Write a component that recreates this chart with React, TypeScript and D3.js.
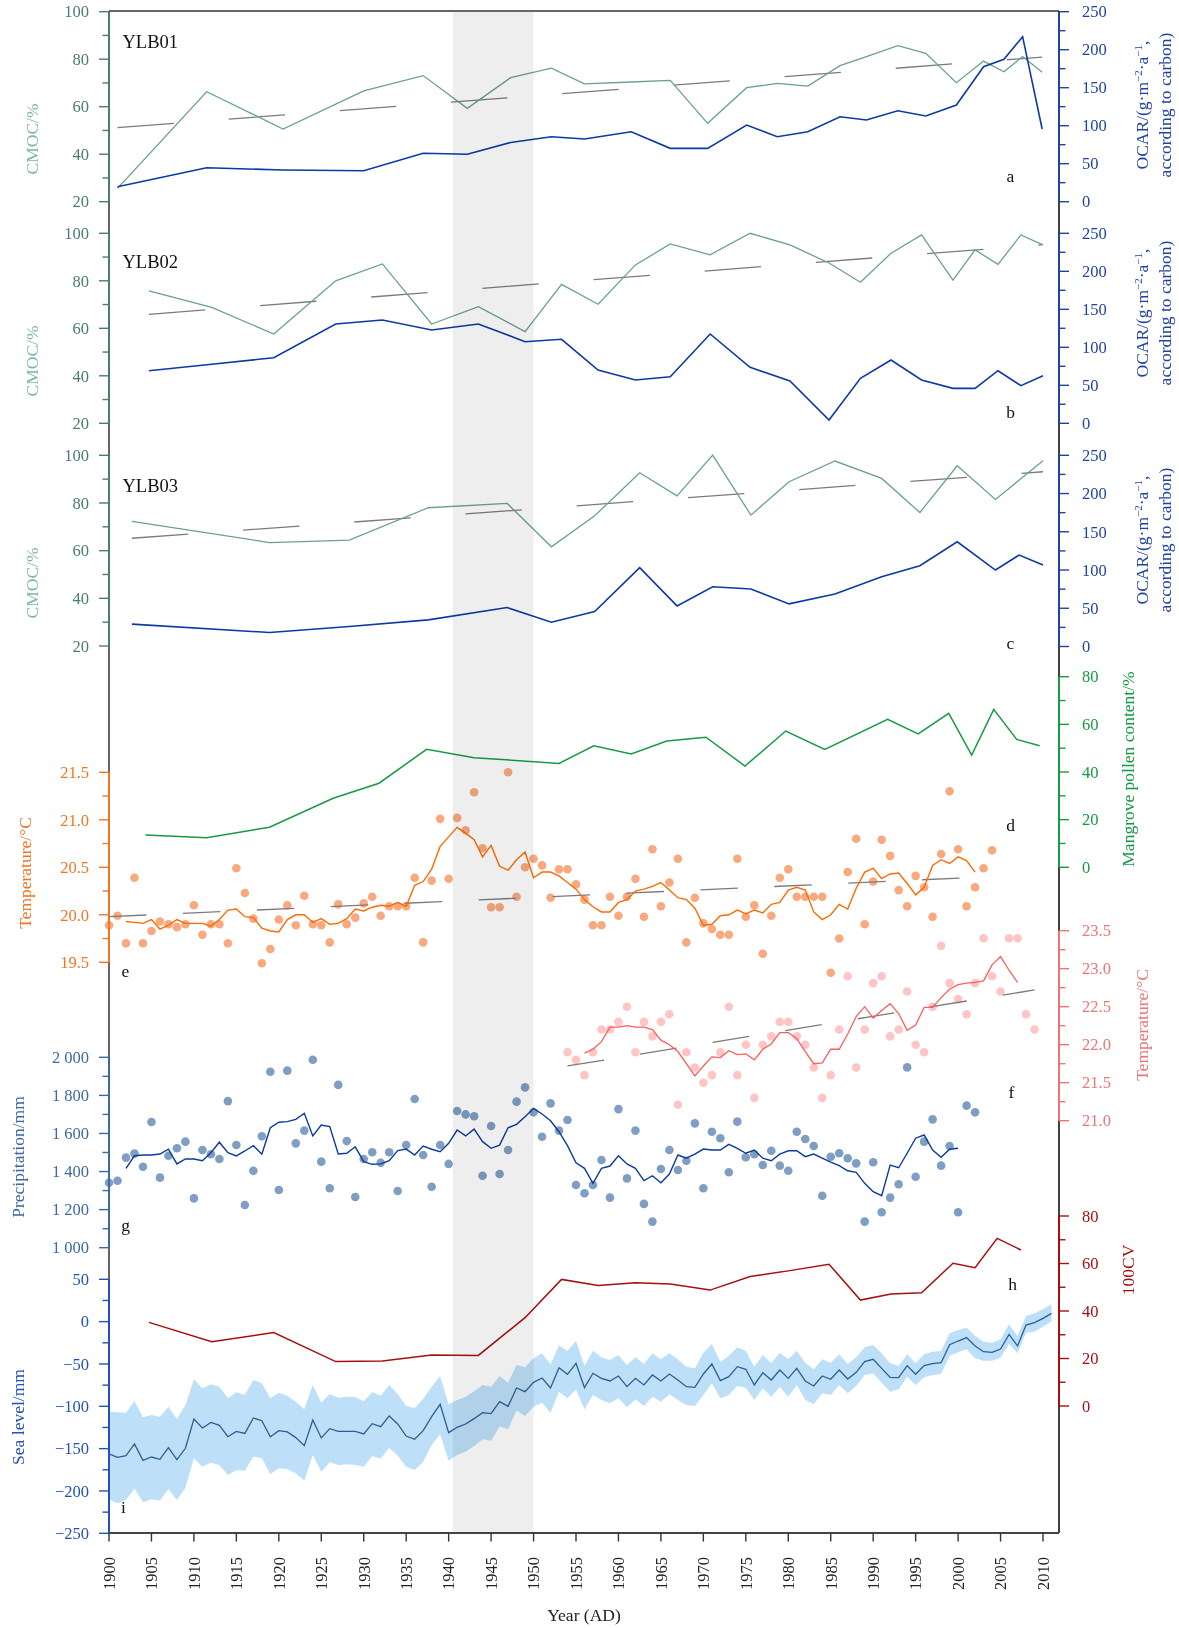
import React from "react";
import * as d3 from "d3";

const W = 1179;
const H = 1628;
const FONT = "'Liberation Serif', 'Times New Roman', Times, serif";

// Frame geometry
const AXIS_L = 109;
const AXIS_R = 1059;
const FRAME_TOP = 11;
const FRAME_BOTTOM = 1533;

// ---------------- YLB01 ----------------
const ylb01Years = [1901, 1911.5, 1920.5, 1930, 1937, 1942.2, 1947.3, 1952.1, 1956, 1961.5, 1966.1, 1970.5, 1975.1, 1978.7, 1982.3, 1986.1, 1989.2, 1992.9, 1996.2, 1999.8, 2003, 2005.4, 2007.6, 2009.9];
const ylb01Cmoc = [25.6, 66.3, 50.6, 66.7, 73.1, 59.3, 72.2, 76.2, 69.6, 70.4, 71.1, 53.0, 68.0, 69.8, 68.7, 77.3, 81.1, 85.7, 82.5, 70.1, 79.2, 74.7, 81.1, 74.5];
const ylb01Ocar = [19.7, 44.7, 41.7, 40.8, 63.7, 62.4, 78.0, 85.5, 82.5, 92.1, 70.2, 70.2, 100.9, 85.5, 92.1, 111.8, 107.5, 119.7, 112.8, 127.2, 177.6, 187.4, 217.1, 95.7];
const ylb01Trend = [[1901, 51.2], [2009.9, 80.9]];

// ---------------- YLB02 ----------------
const ylb02Years = [1904.7, 1912.1, 1919.4, 1926.7, 1932.2, 1938, 1943.5, 1949, 1953.3, 1957.6, 1962, 1966.1, 1970.8, 1975.5, 1980.2, 1984.8, 1988.5, 1992.1, 1995.7, 1999.4, 2002, 2004.7, 2007.4, 2010];
const ylb02Cmoc = [75.8, 68.8, 57.6, 80.0, 87.1, 61.8, 69.1, 58.6, 78.5, 70.1, 86.7, 95.5, 90.9, 100.0, 95.1, 87.5, 79.4, 91.6, 99.3, 80.3, 93.0, 86.9, 99.3, 95.1];
const ylb02Ocar = [69.2, 77.6, 86.3, 130.7, 135.9, 122.8, 130.7, 107.4, 110.5, 70.1, 57.0, 61.3, 117.5, 73.7, 55.7, 4.3, 59.2, 83.3, 57.0, 46.0, 46.0, 69.2, 49.5, 62.6];
const ylb02Trend = [[1904.7, 65.9], [2010, 95.2]];

// ---------------- YLB03 ----------------
const ylb03Years = [1902.7, 1918.9, 1928.3, 1937.6, 1946.9, 1952.1, 1957.2, 1962.5, 1966.9, 1971.1, 1975.6, 1980.1, 1985.5, 1991, 1995.5, 1999.9, 2004.4, 2007.2, 2010];
const ylb03Cmoc = [72.3, 63.4, 64.4, 78.0, 79.8, 61.6, 74.6, 92.7, 83.0, 100.1, 74.9, 88.9, 97.6, 90.3, 76.0, 95.6, 81.5, 89.6, 97.7];
const ylb03Ocar = [29.2, 18.3, 26.1, 34.8, 50.9, 31.8, 45.6, 103.0, 53.1, 78.2, 75.2, 55.7, 68.7, 91.3, 105.6, 136.9, 100.0, 119.6, 106.5];
const ylb03Trend = [[1902.7, 65.2], [2010, 93.1]];

// ---------------- Mangrove pollen (d) ----------------
const pollenYears = [1904.3, 1911.5, 1918.9, 1926.4, 1931.8, 1937.4, 1943, 1953, 1957.1, 1961.5, 1965.7, 1970.3, 1974.9, 1979.7, 1984.3, 1991.7, 1995.3, 1998.9, 2001.6, 2004.2, 2006.9, 2009.6];
const pollenPct = [13.6, 12.4, 16.8, 29.0, 35.3, 49.5, 46.0, 43.6, 51.0, 47.6, 53.0, 54.6, 42.5, 57.2, 49.5, 62.1, 56.0, 64.6, 47.1, 66.3, 53.7, 51.0];

// ---------------- Temperature (e), yearly from 1900 ----------------
const tempEStart = 1900;
const tempE = [
  19.89, 19.99, 19.70, 20.39, 19.70, 19.83, 19.93, 19.90, 19.87, 19.90,
  20.10, 19.79, 19.90, 19.90, 19.70, 20.49, 20.23, 19.96, 19.49, 19.64,
  19.95, 20.10, 19.89, 20.20, 19.90, 19.89, 19.71, 20.11, 19.90, 19.97,
  20.12, 20.19, 19.99, 20.09, 20.09, 20.09, 20.39, 19.71, 20.36, 21.01,
  20.38, 21.02, 20.89, 21.29, 20.70, 20.08, 20.08, 21.50, 20.19, 20.50,
  20.59, 20.52, 20.18, 20.48, 20.48, 20.32, 20.16, 19.89, 19.89, 20.19,
  19.99, 20.19, 20.38, 19.98, 20.69, 20.09, 20.34, 20.59, 19.71, 20.18,
  19.91, 19.85, 19.79, 19.79, 20.59, 19.98, 20.10, 19.59, 19.99, 20.39,
  20.48, 20.19, 20.19, 20.19, 20.19, 19.39, 19.75, 20.45, 20.80, 19.90,
  20.35, 20.79, 20.62, 20.26, 20.09, 20.41, 20.29, 19.98, 20.64, 21.30,
  20.69, 20.09, 20.29, 20.49, 20.68,
];
const tempESmoothStart = 1902;
const tempESmooth = [
  19.93, 19.92, 19.91, 19.95, 19.85, 19.89, 19.95, 19.91, 19.91, 19.91,
  19.88, 19.95, 20.05, 20.06, 19.98, 19.97, 19.86, 19.83, 19.82, 19.95,
  20.00, 20.00, 19.92, 19.96, 19.90, 19.91, 19.96, 20.06, 20.04, 20.08,
  20.10, 20.09, 20.13, 20.09, 20.31, 20.35, 20.48, 20.72, 20.82, 20.92,
  20.86, 20.79, 20.61, 20.73, 20.51, 20.47, 20.58, 20.66, 20.39, 20.45,
  20.45, 20.41, 20.34, 20.27, 20.16, 20.085, 20.03, 20.03, 20.13, 20.16,
  20.25, 20.27, 20.30, 20.34, 20.26, 20.18, 20.16, 20.07, 19.89, 19.90,
  19.99, 20.00, 20.05, 20.01, 20.05, 20.02, 20.11, 20.13, 20.26, 20.29,
  20.26, 20.03, 19.95, 20.00, 20.11, 20.06, 20.28, 20.45, 20.49, 20.38,
  20.43, 20.44, 20.33, 20.21, 20.29, 20.52, 20.58, 20.54, 20.61, 20.57,
  20.45,
];
const tempETrend = [[1900, 19.98], [2001, 20.39]];

// ---------------- Temperature (f), yearly from 1954 ----------------
const tempFStart = 1954;
const tempF = [
  21.90, 21.80, 21.60, 21.90, 22.20, 22.20, 22.30, 22.50, 21.90, 22.30,
  22.11, 22.30, 22.40, 21.21, 21.90, 21.70, 21.50, 21.60, 21.90, 22.50,
  21.60, 22.00, 21.30, 22.00, 22.11, 22.30, 22.30, 22.11, 22.00, 21.70,
  21.30, 21.60, 22.20, 22.90, 21.70, 22.20, 22.81, 22.90, 22.11, 22.20,
  22.70, 22.00, 21.90, 22.50, 23.30, 22.81, 22.60, 22.40, 22.81, 23.40,
  22.90, 22.70, 23.40, 23.40, 22.40, 22.20,
];
const tempFSmoothStart = 1956;
const tempFSmooth = [
  21.89, 21.94, 22.04, 22.23, 22.23, 22.25, 22.23, 22.23, 22.20, 22.06,
  22.00, 21.91, 21.75, 21.59, 21.72, 21.84, 21.83, 21.92, 21.87, 21.88,
  21.80, 21.94, 22.01, 22.16, 22.16, 22.08, 21.91, 21.75, 21.76, 21.94,
  21.94, 22.14, 22.37, 22.50, 22.35, 22.45, 22.54, 22.41, 22.19, 22.26,
  22.49, 22.49, 22.62, 22.73, 22.79, 22.81, 22.82, 22.84, 23.05, 23.16,
  22.98, 22.82,
];
const tempFTrend = [[1954, 21.72], [2009, 22.72]];

// ---------------- Precipitation (g), yearly from 1900 ----------------
const precipStart = 1900;
const precip = [
  1341, 1352, 1473, 1494, 1425, 1660, 1368, 1483, 1522, 1557,
  1259, 1513, 1491, 1466, 1770, 1539, 1224, 1404, 1585, 1924,
  1303, 1930, 1548, 1615, 1987, 1452, 1312, 1855, 1560, 1266,
  1466, 1501, 1446, 1501, 1298, 1539, 1781, 1487, 1320, 1539,
  1440, 1718, 1700, 1690, 1378, 1639, 1387, 1513, 1767, 1842,
  1711, 1583, 1758, 1615, 1671, 1329, 1286, 1329, 1461, 1263,
  1728, 1364, 1615, 1230, 1137, 1413, 1513, 1408, 1457, 1653,
  1312, 1609, 1575, 1396, 1662, 1475, 1491, 1434, 1509, 1431,
  1404, 1609, 1571, 1534, 1273, 1478, 1496, 1470, 1443, 1137,
  1449, 1186, 1263, 1333, 1947, 1373, 1557, 1674, 1431, 1534,
  1186, 1746, 1711,
];
const precipSmoothStart = 1902;
const precipSmooth = [
  1417, 1483, 1487, 1487, 1492, 1517, 1440, 1466, 1466, 1457,
  1499, 1554, 1499, 1482, 1508, 1536, 1491, 1630, 1659, 1662,
  1674, 1706, 1587, 1644, 1636, 1492, 1496, 1530, 1452, 1438,
  1440, 1457, 1510, 1518, 1487, 1534, 1517, 1504, 1548, 1618,
  1587, 1623, 1557, 1522, 1539, 1630, 1648, 1688, 1732, 1702,
  1667, 1609, 1536, 1446, 1417, 1338, 1417, 1429, 1483, 1440,
  1417, 1352, 1378, 1341, 1387, 1487, 1470, 1491, 1518, 1513,
  1513, 1543, 1522, 1496, 1513, 1470, 1457, 1491, 1509, 1509,
  1478, 1492, 1470, 1449, 1431, 1404, 1396, 1338, 1294, 1273,
  1434, 1420, 1496, 1575, 1592, 1513, 1475, 1517, 1522,
];

// ---------------- 100CV (h) ----------------
const cvYears = [1904.7, 1912.1, 1919.4, 1926.7, 1932.2, 1938, 1943.5, 1949, 1953.3, 1957.6, 1962, 1966.1, 1970.8, 1975.5, 1980.2, 1984.8, 1988.5, 1992.1, 1995.7, 1999.4, 2002, 2004.6, 2007.4];
const cv100 = [35.2, 27.1, 30.9, 18.7, 18.9, 21.5, 21.3, 37.2, 53.3, 50.7, 51.9, 51.4, 48.8, 54.5, 57.0, 59.7, 44.6, 47.2, 47.7, 60.1, 58.2, 70.6, 65.7];

// ---------------- Sea level (i), yearly from 1900 ----------------
const seaStart = 1900;
const seaLevel = [
  -156.3, -160.3, -158.3, -144.5, -163.8, -159.9, -162.6, -148.9, -163.0, -149.6,
  -115.0, -125.6, -119.0, -122.5, -135.9, -129.6, -132.0, -113.8, -117.0, -135.9,
  -128.8, -130.3, -137.0, -146.5, -116.2, -137.4, -126.4, -129.6, -129.6, -129.6,
  -132.7, -120.5, -124.0, -111.4, -120.9, -135.1, -139.0, -128.8, -112.2, -97.7,
  -131.1, -124.8, -120.9, -114.6, -107.5, -108.7, -94.5, -100.0, -78.4, -82.7,
  -71.7, -66.6, -78.4, -54.4, -62.2, -49.3, -78.0, -61.0, -67.0, -70.1,
  -64.2, -76.8, -67.0, -74.8, -63.0, -70.1, -61.8, -68.9, -76.8, -77.6,
  -61.8, -50.0, -69.7, -65.0, -53.2, -56.3, -74.8, -60.3, -68.9, -57.1,
  -67.0, -55.2, -70.1, -76.0, -64.2, -68.1, -57.1, -67.8, -59.9, -47.3,
  -44.5, -55.2, -65.8, -66.2, -52.0, -62.2, -52.0, -49.6, -48.5, -27.2,
  -22.9, -18.9, -28.8, -35.5, -36.3, -32.3, -15.0, -28.8, -4.0, -1.2, 3.9, 9.8,
];
const seaUpper = [
  -106.3, -107.1, -107.5, -93.7, -113.0, -110.3, -112.2, -100.4, -115.0, -98.5,
  -68.1, -78.8, -74.0, -76.8, -90.6, -83.5, -86.7, -68.9, -72.9, -90.6,
  -83.9, -87.4, -94.5, -103.6, -74.8, -95.7, -85.5, -89.8, -88.6, -89.0,
  -94.1, -83.1, -87.4, -74.8, -85.5, -99.6, -102.0, -91.4, -76.8, -64.2,
  -97.7, -92.5, -88.6, -82.3, -74.8, -76.8, -64.2, -72.1, -51.2, -54.0,
  -43.3, -37.4, -50.4, -28.0, -34.7, -22.9, -52.0, -34.3, -42.2, -45.3,
  -39.4, -51.2, -42.2, -50.0, -37.4, -44.5, -37.4, -44.5, -53.2, -55.2,
  -36.7, -26.4, -47.3, -40.6, -30.4, -34.7, -53.2, -39.4, -49.3, -36.7,
  -44.5, -34.3, -48.5, -56.3, -44.5, -48.5, -38.6, -50.0, -42.2, -30.4,
  -27.6, -37.4, -49.3, -52.4, -38.6, -49.3, -38.6, -35.5, -34.7, -13.8,
  -9.9, -7.1, -16.6, -23.7, -24.8, -20.9, -3.2, -17.0, 6.7, 9.8, 14.5, 20.4,
];
const seaLower = [
  -209.9, -214.6, -210.7, -197.0, -213.4, -209.9, -211.4, -198.1, -210.7, -196.1,
  -161.4, -171.3, -166.6, -169.3, -181.1, -175.2, -176.0, -159.5, -161.4, -179.9,
  -173.3, -174.4, -179.2, -187.8, -157.5, -177.2, -166.2, -169.3, -168.5, -169.3,
  -171.3, -158.7, -161.9, -148.9, -158.3, -171.3, -175.2, -165.4, -145.7, -133.1,
  -164.2, -157.5, -153.6, -146.9, -139.0, -140.6, -124.0, -127.2, -105.1, -111.4,
  -100.4, -95.7, -107.5, -82.7, -90.6, -80.0, -103.6, -86.6, -92.6, -96.5,
  -90.6, -101.2, -91.8, -99.6, -88.6, -94.5, -85.9, -92.6, -98.5, -99.6,
  -86.6, -72.9, -90.6, -86.6, -76.0, -78.0, -92.6, -78.8, -88.6, -76.8,
  -88.6, -74.8, -92.6, -97.3, -84.7, -86.6, -74.8, -84.7, -76.0, -63.0,
  -61.1, -72.1, -82.7, -80.0, -65.0, -74.8, -65.8, -63.0, -61.8, -40.6,
  -36.3, -32.7, -43.3, -46.1, -46.1, -42.6, -26.4, -37.4, -13.0, -11.9, -5.9, 0.0,
];

// Axis tick values
const yearTicks = d3.range(1900, 2011, 5);
const cmocTicks = [20, 40, 60, 80, 100];
const cmocMinor = [30, 50, 70, 90];
const ocarTicks = [0, 50, 100, 150, 200, 250];
const ocarMinor = [25, 75, 125, 175, 225];
const pollenTicks = [0, 20, 40, 60, 80];
const pollenMinor = [10, 30, 50, 70];
const tempETicks = [19.5, 20.0, 20.5, 21.0, 21.5];
const tempEMinor = [19.75, 20.25, 20.75, 21.25];
const tempFTicks = [21.0, 21.5, 22.0, 22.5, 23.0, 23.5];
const tempFMinor = [21.25, 21.75, 22.25, 22.75, 23.25];
const precipTicks = [1000, 1200, 1400, 1600, 1800, 2000];
const precipMinor = [1100, 1300, 1500, 1700, 1900];
const cvTicks = [0, 20, 40, 60, 80];
const cvMinor = [10, 30, 50, 70];
const seaTicks = [-250, -200, -150, -100, -50, 0, 50];
const seaMinor = [-225, -175, -125, -75, -25, 25];

const shadedPeriod = [1940.5, 1950];

const COL = {
  cmoc: "#6a9f98",
  cmocAxis: "#4c7b75",
  cmocTitle: "#7fb4ad",
  ocar: "#0c39a6",
  ocarAxis: "#2043a3",
  trend: "#7b7b7b",
  pollen: "#169a43",
  tempE: "#ff6a00",
  tempEDot: "#f9a97e",
  tempEAxis: "#f07524",
  tempF: "#ff5c5c",
  tempFDot: "#ffc5c5",
  tempFAxis: "#ef7474",
  precipDot: "#7f9ec3",
  precipLine: "#0b3aa0",
  precipAxis: "#3d68a3",
  cv: "#a60f0f",
  sea: "#2d5e93",
  seaBand: "#bde0f8",
  seaAxis: "#2252b5",
};

// Scales
const X = d3.scaleLinear().domain([1900, 2010]).range([109, 1043]);
const yCmocA = d3.scaleLinear().domain([20, 100]).range([201.7, 11.7]);
const yOcarA = d3.scaleLinear().domain([0, 250]).range([201.7, 11.7]);
const yCmocB = d3.scaleLinear().domain([20, 100]).range([423.3, 233.3]);
const yOcarB = d3.scaleLinear().domain([0, 250]).range([423.3, 233.3]);
const yCmocC = d3.scaleLinear().domain([20, 100]).range([646, 455.3]);
const yOcarC = d3.scaleLinear().domain([0, 250]).range([646.5, 455.3]);
const yPollen = d3.scaleLinear().domain([0, 80]).range([867.3, 676.7]);
const yTempE = d3.scaleLinear().domain([19.5, 21.5]).range([962.3, 772.3]);
const yTempF = d3.scaleLinear().domain([21, 23.5]).range([1120.7, 930.7]);
const yPrecip = d3.scaleLinear().domain([1000, 2000]).range([1247.7, 1057.3]);
const yCv = d3.scaleLinear().domain([0, 80]).range([1406, 1216]);
const ySea = d3.scaleLinear().domain([-250, 50]).range([1533.3, 1279.3]);

type Lin = d3.ScaleLinear<number, number>;

const yearly = (start: number, n: number) => d3.range(start, start + n);

function pathOf(xs: number[], vs: number[], y: Lin): string {
  return (
    d3
      .line<number>()
      .x((_, i) => X(xs[i]))
      .y((v) => y(v))(vs) || ""
  );
}

function trendPath(t: number[][], y: Lin): string {
  return (
    d3
      .line<number[]>()
      .x((d) => X(d[0]))
      .y((d) => y(d[1]))(t) || ""
  );
}

const minus = (v: number) => (v < 0 ? "\u2212" + Math.abs(v) : String(v));
const thousands = (v: number) =>
  v >= 1000 ? `${Math.floor(v / 1000)} ${String(v % 1000).padStart(3, "0")}` : String(v);
const oneDecimal = (v: number) => v.toFixed(1);

function SideAxis(props: {
  side: "left" | "right";
  scale: Lin;
  major: number[];
  minor: number[];
  fmt: (v: number) => string;
  color: string;
  labelColor?: string;
}) {
  const { side, scale, major, minor, fmt, color } = props;
  const labelColor = props.labelColor || color;
  const x0 = side === "left" ? AXIS_L : AXIS_R;
  const d = side === "left" ? -1 : 1;
  const ys = major.map((v) => scale(v));
  const top = Math.min(...ys);
  const bot = Math.max(...ys);
  return (
    <g>
      <line x1={x0} x2={x0} y1={top} y2={bot} stroke={color} strokeWidth={2} />
      {minor.map((v) => (
        <line key={"m" + v} x1={x0} x2={x0 + d * 6.5} y1={scale(v)} y2={scale(v)} stroke={color} strokeWidth={1.4} />
      ))}
      {major.map((v) => (
        <line key={"M" + v} x1={x0} x2={x0 + d * 10} y1={scale(v)} y2={scale(v)} stroke={color} strokeWidth={1.4} />
      ))}
      {major.map((v) => (
        <text
          key={"t" + v}
          x={side === "left" ? 89 : 1082}
          y={scale(v)}
          dy="0.35em"
          textAnchor={side === "left" ? "end" : "start"}
          fill={labelColor}
          fontSize={16.5}
        >
          {fmt(v)}
        </text>
      ))}
    </g>
  );
}

function VTitle(props: { x: number; y: number; color: string; children: React.ReactNode; size?: number }) {
  return (
    <text
      transform={`translate(${props.x},${props.y}) rotate(-90)`}
      textAnchor="middle"
      dy="0.35em"
      fill={props.color}
      fontSize={props.size || 17.5}
    >
      {props.children}
    </text>
  );
}

function OcarTitle({ y }: { y: number }) {
  return (
    <g fill={COL.ocarAxis} fontSize={17.5}>
      <text transform={`translate(1142,${y}) rotate(-90)`} textAnchor="middle" dy="0.35em">
        <tspan>OCAR/(g·m</tspan>
        <tspan dy="-6" fontSize={11}>−2</tspan>
        <tspan dy="6">·a</tspan>
        <tspan dy="-6" fontSize={11}>−1</tspan>
        <tspan dy="6">,</tspan>
      </text>
      <text transform={`translate(1165,${y}) rotate(-90)`} textAnchor="middle" dy="0.35em">
        according to carbon)
      </text>
    </g>
  );
}

function CorePanel(props: {
  name: string;
  nameY: number;
  years: number[];
  cmoc: number[];
  ocar: number[];
  trend: number[][];
  yC: Lin;
  yO: Lin;
}) {
  const { years, cmoc, ocar, trend, yC, yO } = props;
  return (
    <g>
      <path d={trendPath(trend, yC)} fill="none" stroke={COL.trend} strokeWidth={1.3} strokeDasharray="56.5,55" />
      <path d={pathOf(years, cmoc, yC)} fill="none" stroke={COL.cmoc} strokeWidth={1.3} />
      <path d={pathOf(years, ocar, yO)} fill="none" stroke={COL.ocar} strokeWidth={1.6} />
      <text x={122.5} y={props.nameY} fontSize={18.5} fill="#111">
        {props.name}
      </text>
    </g>
  );
}

export default function App() {
  const tempEYears = yearly(tempEStart, tempE.length);
  const tempESmYears = yearly(tempESmoothStart, tempESmooth.length);
  const tempFYears = yearly(tempFStart, tempF.length);
  const tempFSmYears = yearly(tempFSmoothStart, tempFSmooth.length);
  const precipYears = yearly(precipStart, precip.length);
  const precipSmYears = yearly(precipSmoothStart, precipSmooth.length);
  const seaYears = yearly(seaStart, seaLevel.length);

  const seaArea =
    d3
      .area<number>()
      .x((_, i) => X(seaYears[i]))
      .y0((_, i) => ySea(seaLower[i]))
      .y1((_, i) => ySea(seaUpper[i]))(seaLevel) || "";

  const bandX0 = X(shadedPeriod[0]);
  const bandX1 = X(shadedPeriod[1]);

  const letters: [string, number, number][] = [
    ["a", 1010.5, 177],
    ["b", 1010.5, 413],
    ["c", 1010.5, 644],
    ["d", 1010.5, 826],
    ["e", 125.5, 972],
    ["f", 1011.5, 1093],
    ["g", 125.5, 1226],
    ["h", 1012.5, 1285],
    ["i", 123.5, 1508],
  ];

  return (
    <svg
      width={W}
      height={H}
      viewBox={`0 0 ${W} ${H}`}
      style={{ position: "absolute", left: 0, top: 0, fontFamily: FONT, background: "#fff" }}
    >
      <rect x={0} y={0} width={W} height={H} fill="#fff" />

      {/* base axis lines and frame */}
      <line x1={AXIS_L} x2={AXIS_R} y1={FRAME_TOP} y2={FRAME_TOP} stroke="#333" strokeWidth={1.4} />
      <line x1={AXIS_L} x2={AXIS_L} y1={FRAME_TOP} y2={FRAME_BOTTOM} stroke="#555" strokeWidth={1.8} />
      <line x1={AXIS_R} x2={AXIS_R} y1={FRAME_TOP} y2={FRAME_BOTTOM} stroke="#111" strokeWidth={1.6} />
      <line x1={AXIS_L} x2={AXIS_R} y1={FRAME_BOTTOM} y2={FRAME_BOTTOM} stroke="#444" strokeWidth={1.8} />

      {/* sea level uncertainty band */}
      <path d={seaArea} fill={COL.seaBand} stroke="none" />

      {/* a–c: sediment cores */}
      <CorePanel name="YLB01" nameY={48} years={ylb01Years} cmoc={ylb01Cmoc} ocar={ylb01Ocar} trend={ylb01Trend} yC={yCmocA} yO={yOcarA} />
      <CorePanel name="YLB02" nameY={268} years={ylb02Years} cmoc={ylb02Cmoc} ocar={ylb02Ocar} trend={ylb02Trend} yC={yCmocB} yO={yOcarB} />
      <CorePanel name="YLB03" nameY={492} years={ylb03Years} cmoc={ylb03Cmoc} ocar={ylb03Ocar} trend={ylb03Trend} yC={yCmocC} yO={yOcarC} />

      {/* d: mangrove pollen */}
      <path d={pathOf(pollenYears, pollenPct, yPollen)} fill="none" stroke={COL.pollen} strokeWidth={1.5} />

      {/* e: temperature */}
      {tempE.map((v, i) => (
        <circle key={"te" + i} cx={X(tempEYears[i])} cy={yTempE(v)} r={4.3} fill={COL.tempEDot} />
      ))}
      <path d={trendPath(tempETrend, yTempE)} fill="none" stroke={COL.trend} strokeWidth={1.3} strokeDasharray="37.5,36.5" />
      <path d={pathOf(tempESmYears, tempESmooth, yTempE)} fill="none" stroke={COL.tempE} strokeWidth={1.4} />

      {/* f: temperature */}
      {tempF.map((v, i) => (
        <circle key={"tf" + i} cx={X(tempFYears[i])} cy={yTempF(v)} r={4.3} fill={COL.tempFDot} />
      ))}
      <path d={trendPath(tempFTrend, yTempF)} fill="none" stroke={COL.trend} strokeWidth={1.3} strokeDasharray="37,36.5" />
      <path d={pathOf(tempFSmYears, tempFSmooth, yTempF)} fill="none" stroke={COL.tempF} strokeWidth={1.3} />

      {/* g: precipitation */}
      {precip.map((v, i) => (
        <circle key={"p" + i} cx={X(precipYears[i])} cy={yPrecip(v)} r={4.3} fill={COL.precipDot} />
      ))}
      <path d={pathOf(precipSmYears, precipSmooth, yPrecip)} fill="none" stroke={COL.precipLine} strokeWidth={1.4} />

      {/* h: 100CV */}
      <path d={pathOf(cvYears, cv100, yCv)} fill="none" stroke={COL.cv} strokeWidth={1.5} />

      {/* i: sea level */}
      <path d={pathOf(seaYears, seaLevel, ySea)} fill="none" stroke={COL.sea} strokeWidth={1.3} />

      {/* shaded interval */}
      <rect
        x={bandX0}
        y={FRAME_TOP + 1}
        width={bandX1 - bandX0}
        height={FRAME_BOTTOM - FRAME_TOP - 2}
        fill="#eeeeee"
        style={{ mixBlendMode: "multiply" }}
      />

      {/* left axes */}
      <SideAxis side="left" scale={yCmocA} major={cmocTicks} minor={cmocMinor} fmt={String} color={COL.cmocAxis} />
      <SideAxis side="left" scale={yCmocB} major={cmocTicks} minor={cmocMinor} fmt={String} color={COL.cmocAxis} />
      <SideAxis side="left" scale={yCmocC} major={cmocTicks} minor={cmocMinor} fmt={String} color={COL.cmocAxis} />
      <SideAxis side="left" scale={yTempE} major={tempETicks} minor={tempEMinor} fmt={oneDecimal} color={COL.tempEAxis} />
      <SideAxis side="left" scale={yPrecip} major={precipTicks} minor={precipMinor} fmt={thousands} color={COL.precipAxis} />
      <SideAxis side="left" scale={ySea} major={seaTicks} minor={seaMinor} fmt={minus} color={COL.seaAxis} />

      {/* right axes */}
      <SideAxis side="right" scale={yOcarA} major={ocarTicks} minor={ocarMinor} fmt={String} color={COL.ocarAxis} />
      <SideAxis side="right" scale={yOcarB} major={ocarTicks} minor={ocarMinor} fmt={String} color={COL.ocarAxis} />
      <SideAxis side="right" scale={yOcarC} major={ocarTicks} minor={ocarMinor} fmt={String} color={COL.ocarAxis} />
      <SideAxis side="right" scale={yPollen} major={pollenTicks} minor={pollenMinor} fmt={String} color={COL.pollen} />
      <SideAxis side="right" scale={yTempF} major={tempFTicks} minor={tempFMinor} fmt={oneDecimal} color={COL.tempFAxis} />
      <SideAxis side="right" scale={yCv} major={cvTicks} minor={cvMinor} fmt={String} color={COL.cv} />

      {/* axis titles */}
      <VTitle x={32} y={139} color={COL.cmocTitle}>CMOC/%</VTitle>
      <VTitle x={32} y={361} color={COL.cmocTitle}>CMOC/%</VTitle>
      <VTitle x={32} y={583} color={COL.cmocTitle}>CMOC/%</VTitle>
      <OcarTitle y={105} />
      <OcarTitle y={313} />
      <OcarTitle y={540} />
      <VTitle x={1128} y={769} color={COL.pollen}>Mangrove pollen content/%</VTitle>
      <VTitle x={25} y={873} color={COL.tempEAxis}>Temperature/°C</VTitle>
      <VTitle x={1142} y={1025} color={COL.tempFAxis}>Temperature/°C</VTitle>
      <VTitle x={18} y={1157} color={COL.precipAxis}>Precipitation/mm</VTitle>
      <VTitle x={1128} y={1270} color={COL.cv}>100CV</VTitle>
      <VTitle x={18} y={1417} color={COL.seaAxis}>Sea level/mm</VTitle>

      {/* panel letters */}
      {letters.map(([t, x, y]) => (
        <text key={t} x={x} y={y} dy="0.3em" textAnchor="middle" fontSize={17.5} fill="#111">
          {t}
        </text>
      ))}

      {/* x axis */}
      {yearTicks.map((yr) => (
        <g key={yr}>
          <line x1={X(yr)} x2={X(yr)} y1={FRAME_BOTTOM} y2={FRAME_BOTTOM + 8.5} stroke="#333" strokeWidth={1.4} />
          <text
            transform={`translate(${X(yr)},${FRAME_BOTTOM + 24}) rotate(-90)`}
            textAnchor="end"
            dy="0.35em"
            fontSize={16.5}
            fill="#222"
          >
            {yr}
          </text>
        </g>
      ))}
      <text x={584} y={1621} textAnchor="middle" fontSize={17.5} fill="#222">
        Year (AD)
      </text>
    </svg>
  );
}
